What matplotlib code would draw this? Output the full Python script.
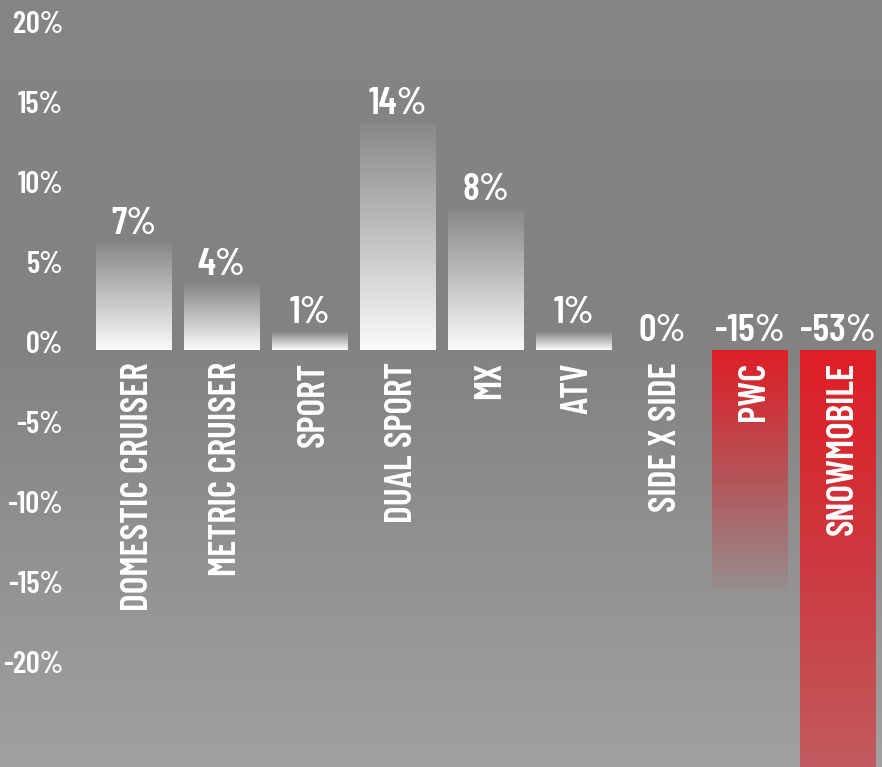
import numpy as np
import matplotlib
matplotlib.use('Agg')
import matplotlib.pyplot as plt
from matplotlib import transforms

# data
categories = ['DOMESTIC CRUISER', 'METRIC CRUISER', 'SPORT', 'DUAL SPORT', 'MX',
              'ATV', 'SIDE X SIDE', 'PWC', 'SNOWMOBILE']
values = [6.7, 4.1, 1.1, 14.2, 8.8, 1.1, 0.0, -15.0, -53.0]
value_labels = ['7%', '4%', '1%', '14%', '8%', '1%', '0%', '-15%', '-53%']
ticks = [20, 15, 10, 5, 0, -5, -10, -15, -20]
tick_labels = ['20%', '15%', '10%', '5%', '0%', '-5%', '-10%', '-15%', '-20%']

plt.rcParams['font.family'] = ['Barlow Condensed', 'DejaVu Sans']
plt.rcParams['font.weight'] = 600

fig = plt.figure(figsize=(8.82, 7.67), dpi=100)
ax = fig.add_axes([0, 0, 1, 1])
ax.set_axis_off()

# background: flat grey on top, lighter towards the bottom
yy = np.linspace(0, 1, 300)
shade = np.interp(yy, [0, 0.45, 1], [0.52, 0.51, 0.63])
bg = np.dstack([shade, shade, shade]).reshape(300, 1, 3)
ax.imshow(bg, extent=(0, 1, 0, 1), transform=ax.transAxes, aspect='auto',
          origin='upper', zorder=0)

x = np.arange(len(categories))
bars = ax.bar(x, values, width=0.86, color='none', edgecolor='none', zorder=2)

# each bar gets a vertical fade, strong at the zero line
for i, (rect, v) in enumerate(zip(bars, values)):
    if v == 0:
        continue
    n = 256
    a = np.linspace(0.97, 0.04, n) if v > 0 else np.linspace(1.0, 0.05, n)
    rgb = (1, 1, 1) if v > 0 else (0.88, 0.12, 0.15)
    grad = np.zeros((n, 1, 4))
    grad[:, 0, :3] = rgb
    grad[:, 0, 3] = a
    x0 = rect.get_x()
    im = ax.imshow(grad, extent=(x0, x0 + rect.get_width(), 0, v), origin='lower',
                   aspect='auto', zorder=2)
    im.set_clip_path(rect)

for i, v in enumerate(values):
    ax.annotate(value_labels[i], (i, max(v, 0)), xytext=(0, 9), textcoords='offset pixels',
                ha='center', va='baseline', color='white', fontsize=28, zorder=4)
    ax.annotate(categories[i], (i, 0), xytext=(4, -12), textcoords='offset pixels',
                ha='center', va='top', rotation=90, color='white', fontsize=27, zorder=4)

off = transforms.ScaledTranslation(0, -3 / 100, fig.dpi_scale_trans)
trans = transforms.blended_transform_factory(ax.transAxes, ax.transData) + off
for t, lab in zip(ticks, tick_labels):
    ax.text(63 / 882, t, lab, transform=trans, ha='right', va='baseline',
            color='white', fontsize=22)

ax.set_xlim(-133.5 / 88.1, (882 - 133.5) / 88.1)
ax.set_ylim(-417 / 16, 350 / 16)

fig.savefig('out.png', dpi=100)
